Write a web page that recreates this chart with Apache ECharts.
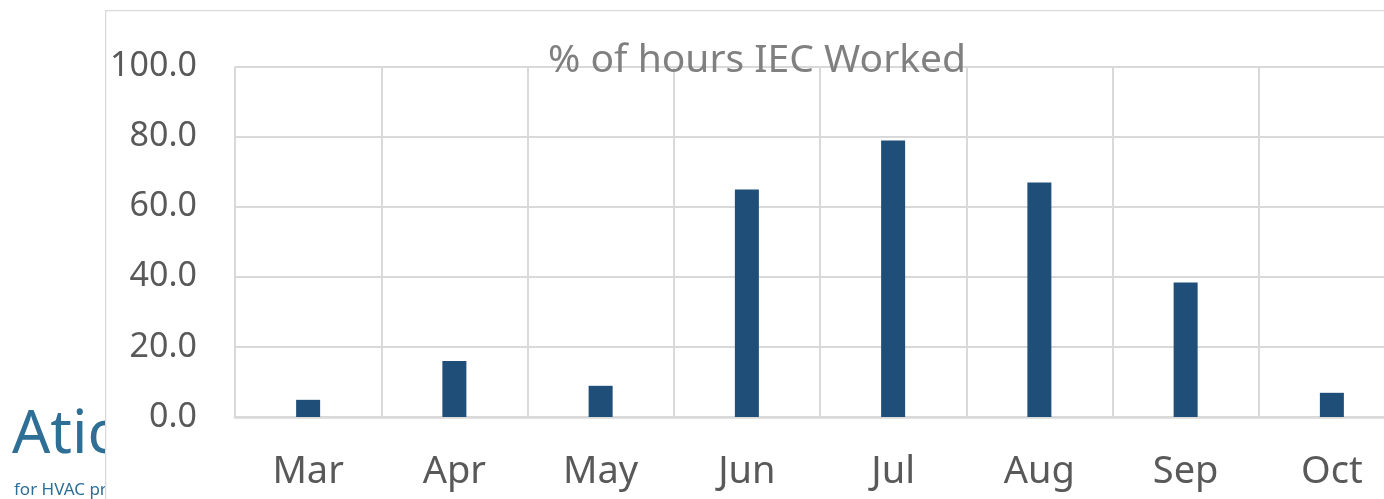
<!DOCTYPE html>
<html>
<head>
<meta charset="utf-8" />
<title>% of hours IEC Worked</title>
<script src="https://cdn.jsdelivr.net/npm/echarts@6/dist/echarts.min.js"></script>
<style>
  html, body { margin: 0; padding: 0; background: #fff; overflow: hidden; }
  /* the plot runs a little past the right edge of the window, as in the picture */
  #main { width: 1410px; height: 499px; }
</style>
</head>
<body>
<div id="main"></div>
<script type="text/javascript">
    // data
    var months = ['Mar', 'Apr', 'May', 'Jun', 'Jul', 'Aug', 'Sep', 'Oct'];
    var pctWorked = [4.9, 16.0, 8.9, 64.9, 78.9, 66.9, 38.4, 6.9];
    var yTicks = [0, 20, 40, 60, 80, 100];

    var myChart = echarts.init(document.getElementById('main'));
    var option = {
        backgroundColor: '#ffffff',
        animation: false,
        title: {
            text: '% of hours IEC Worked',
            left: 752,
            top: 36,
            textAlign: 'center',
            textStyle: {
                fontFamily: 'Noto Sans',
                fontSize: 39,
                fontWeight: 'normal',
                color: '#808080'
            },
            z: 20
        },
        graphic: [
            // logo sitting behind the chart box
            {
                type: 'text', left: 12, top: 406, z: 1,
                style: { text: 'Atic', fontFamily: 'Noto Sans', fontSize: 60, fill: '#2f6e95' }
            },
            {
                type: 'text', left: 14, top: 482, z: 1,
                style: { text: 'for HVAC pro', fontFamily: 'Noto Sans', fontSize: 17, fill: '#2f6e95' }
            },
            // chart box (white, covers the logo)
            {
                type: 'rect', left: 105, top: 10, z: 2, silent: true,
                shape: { width: 1400, height: 600 },
                style: { fill: '#ffffff', stroke: '#d9d9d9', lineWidth: 1.3 }
            }
        ],
        grid: {
            left: 235,
            top: 66.5,
            right: 5,
            bottom: 82,
            containLabel: false,
            z: 10
        },
        xAxis: {
            type: 'category',
            data: months,
            boundaryGap: true,
            axisLine: { show: true, lineStyle: { color: '#d9d9d9', width: 2.5 } },
            axisTick: { show: false },
            splitLine: { show: true, lineStyle: { color: '#d9d9d9', width: 2 } },
            axisLabel: {
                margin: 36,
                fontFamily: 'Noto Sans',
                fontSize: 38,
                color: '#595959'
            },
            z: 10
        },
        yAxis: {
            type: 'value',
            min: yTicks[0],
            max: yTicks[yTicks.length - 1],
            interval: 20,
            axisLine: { show: false },
            axisTick: { show: false },
            splitLine: { show: true, lineStyle: { color: '#d9d9d9', width: 2 } },
            axisLabel: {
                margin: 38,
                fontFamily: 'Noto Sans',
                fontSize: 34,
                color: '#595959',
                formatter: function (v) { return v.toFixed(1); }
            },
            z: 10
        },
        series: [
            {
                name: '% of hours IEC Worked',
                type: 'bar',
                data: pctWorked,
                barWidth: 24,
                itemStyle: { color: '#1f4e79' },
                z: 11
            }
        ]
    };
    myChart.setOption(option);
</script>
</body>
</html>
